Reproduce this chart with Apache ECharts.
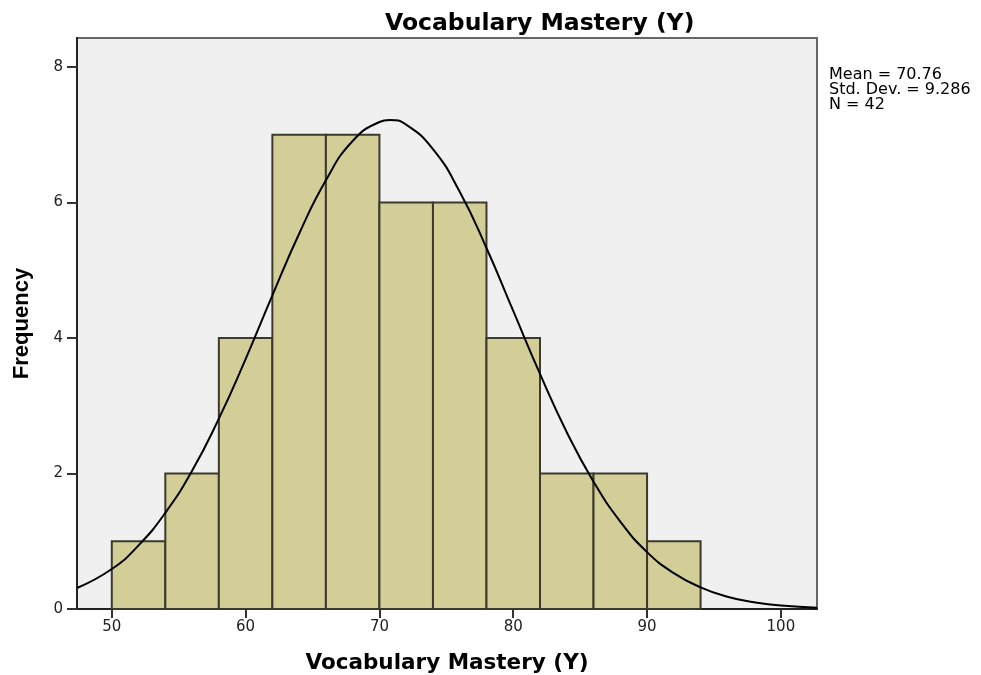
<!DOCTYPE html>
<html>
<head>
<meta charset="utf-8">
<title>Vocabulary Mastery (Y)</title>
<script src="https://cdn.jsdelivr.net/npm/echarts@6/dist/echarts.min.js"></script>
<style>
  html, body { margin: 0; padding: 0; background: #fff; }
  #main { width: 981px; height: 675px; }
</style>
</head>
<body>
<div id="main"></div>
<script>
// histogram bins (lower edge, upper edge) and counts
var binLow  = [50, 54, 58, 62, 66, 70, 74, 78, 82, 86, 90];
var binHigh = [54, 58, 62, 66, 70, 74, 78, 82, 86, 90, 94];
var counts  = [1, 2, 4, 7, 7, 6, 6, 4, 2, 2, 1];

// normal curve
var curveX = [47.4, 50, 52, 54, 56, 58, 60, 62, 64, 66, 68, 70, 70.76, 72, 74, 76, 78, 80, 82, 84, 86, 88, 90, 92, 94, 96, 98, 100, 102.7];
var curveY = [0.31, 0.59, 0.94, 1.42, 2.04, 2.81, 3.69, 4.63, 5.54, 6.33, 6.91, 7.19, 7.22, 7.15, 6.79, 6.16, 5.33, 4.40, 3.47, 2.61, 1.88, 1.29, 0.84, 0.53, 0.32, 0.18, 0.10, 0.05, 0.02];

var xTicks = [50, 60, 70, 80, 90, 100];
var yTicks = [0, 2, 4, 6, 8];
var statsLines = ['Mean = 70.76', 'Std. Dev. = 9.286', 'N = 42'];

var barData = binLow.map(function (lo, i) { return [lo, binHigh[i], counts[i]]; });
var curveData = curveX.map(function (x, i) { return [x, curveY[i]]; });

var myChart = echarts.init(document.getElementById('main'));

var option = {
    animation: false,
    title: {
        text: 'Vocabulary Mastery (Y)',
        left: 380,
        top: 7,
        textStyle: { fontFamily: 'DejaVu Sans', fontWeight: 'bold', fontSize: 23.5, color: '#000' }
    },
    grid: {
        left: 77, right: 164, top: 38, bottom: 66,
        outerBoundsMode: 'none',
        show: true,
        backgroundColor: '#f0f0f0',
        borderColor: '#666',
        borderWidth: 2
    },
    graphic: [{
        type: 'text',
        left: 829,
        top: 67,
        style: {
            text: statsLines.join('\n'),
            font: '16px "DejaVu Sans"',
            lineHeight: 15,
            fill: '#000'
        }
    }],
    xAxis: {
        type: 'value',
        min: 47.4,
        max: 102.7,
        name: 'Vocabulary Mastery (Y)',
        nameLocation: 'middle',
        nameGap: 43,
        nameTextStyle: { fontFamily: 'DejaVu Sans', fontWeight: 'bold', fontSize: 21.5, color: '#000' },
        axisLine: { lineStyle: { color: '#222', width: 2 } },
        axisTick: { customValues: xTicks, length: 9, lineStyle: { color: '#333', width: 2 } },
        axisLabel: { customValues: xTicks, margin: 11, fontFamily: 'DejaVu Sans', fontSize: 15, color: '#222' },
        splitLine: { show: false }
    },
    yAxis: {
        type: 'value',
        min: 0,
        max: 8.43,
        name: 'Frequency',
        nameLocation: 'middle',
        nameGap: 44,
        nameTextStyle: { fontFamily: 'Liberation Sans', fontWeight: 'bold', fontSize: 22, color: '#000' },
        axisLine: { show: true, lineStyle: { color: '#222', width: 2 } },
        axisTick: { show: true, customValues: yTicks, length: 10, lineStyle: { color: '#333', width: 2 } },
        axisLabel: { customValues: yTicks, margin: 14, fontFamily: 'DejaVu Sans', fontSize: 15, color: '#222' },
        splitLine: { show: false }
    },
    series: [
        {
            type: 'custom',
            data: barData,
            renderItem: function (params, api) {
                var p0 = api.coord([api.value(0), 0]);
                var p1 = api.coord([api.value(1), api.value(2)]);
                return {
                    type: 'rect',
                    shape: { x: p0[0], y: p1[1], width: p1[0] - p0[0], height: p0[1] - p1[1] },
                    style: { fill: '#d3ce97', stroke: '#3b3a2c', lineWidth: 2 }
                };
            },
            z: 2
        },
        {
            type: 'line',
            data: curveData,
            smooth: true,
            symbol: 'none',
            lineStyle: { color: '#000', width: 2 },
            z: 3
        }
    ]
};

myChart.setOption(option);
</script>
</body>
</html>
